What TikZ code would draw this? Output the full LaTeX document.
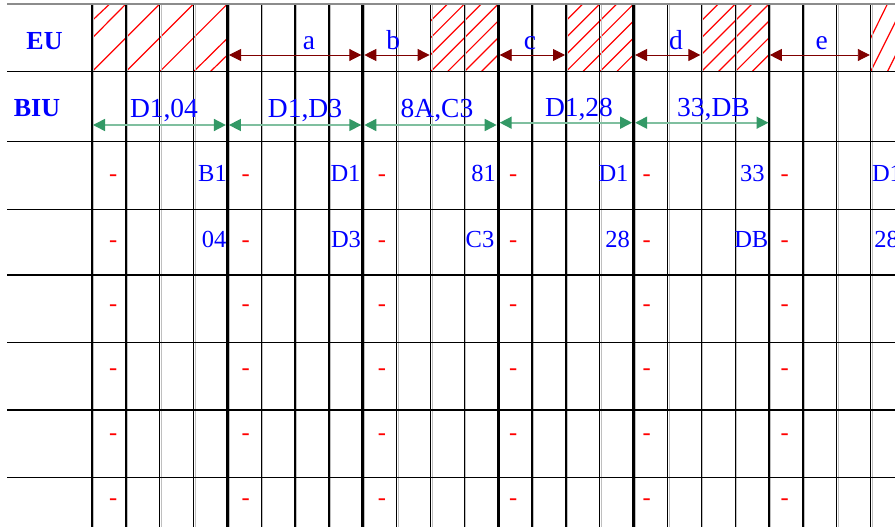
\documentclass[tikz,border=0pt]{standalone}
\usepackage{fontspec}
\setmainfont{Liberation Serif}
\usetikzlibrary{arrows.meta}
\definecolor{maroonc}{HTML}{800000}
\definecolor{greenhead}{HTML}{339966}
\definecolor{greenline}{HTML}{7FBF9F}
\definecolor{bluetxt}{HTML}{0000FF}
\definecolor{redc}{HTML}{FF0000}
\begin{document}
\begin{tikzpicture}[x=1pt,y=-1pt,
  gridline/.style={black,line width=1.3pt},
  shadowline/.style={black!25,line width=1pt},
  thickline/.style={black,line width=3pt},
  topline/.style={black!45,line width=1.3pt},
  hatch/.style={redc,line width=1.2pt},
  euarrow/.style={maroonc,line width=0.9pt,{Triangle[length=12pt,width=12pt]}-{Triangle[length=12pt,width=12pt]}},
  biuarrow/.style={greenline,line width=1.6pt,{Triangle[length=12pt,width=12pt,color=greenhead]}-{Triangle[length=12pt,width=12pt,color=greenhead]}},
  lbl/.style={text=bluetxt,font=\fontsize{27.5}{30}\selectfont,inner sep=0pt,anchor=base},
  val/.style={text=bluetxt,font=\fontsize{24.5}{28}\selectfont,inner sep=0pt,anchor=base},
  dsh/.style={text=redc,font=\fontsize{24.5}{28}\selectfont,inner sep=0pt,anchor=base},
  rowlbl/.style={text=bluetxt,font=\bfseries\fontsize{26}{30}\selectfont,inner sep=0pt,anchor=base}]
\useasboundingbox (0,0) rectangle (895,527);
\clip (0,0) rectangle (895,527);
\fill[white] (0,0) rectangle (895,527);
% hatching
\draw[hatch] (92,20.7)--(109.7,4) (92,38.3)--(125.85,4) (92,71.7)--(159.7,4)
  (125.85,71.7)--(193.55,4) (159.7,71.7)--(227.4,4) (193.55,71.7)--(227.4,38.3)
  (210.3,71.7)--(227.4,55);
\foreach \L in {430.5,565.9,701.3}{
  \foreach \i in {1,2,3}{
    \draw[hatch] (\L,{4+16.925*\i}) -- ({\L+16.925*\i},4);
    \draw[hatch] ({\L+16.925*\i},71.7) -- ({\L+67.7},{4+16.925*\i});
  }
  \draw[hatch] (\L,71.7) -- ({\L+67.7},4);
}
\draw[hatch] (870.55,38.3)--(887.4,4) (870.55,71.7)--(904.4,4) (887.4,71.7)--(921.3,4);
% grid
\foreach \k in {0,...,23}{
  \draw[shadowline] ({93.6+33.85*\k},4) -- ({93.6+33.85*\k},527);
  \draw[gridline] ({92+33.85*\k},4) -- ({92+33.85*\k},527);
}
\foreach \k in {4,8,12,16}{
  \draw[thickline] ({92+33.85*\k},4) -- ({92+33.85*\k},527);
}
\draw[topline] (7,4) -- (895,4);
\foreach \y in {71.7,141.7,209.3,275,342.3,410,477.7}{
  \draw[gridline] (7,\y) -- (895,\y);
}
% row labels
\node[rowlbl] (eu) at (44.5,50) {EU};
\node[rowlbl] (biu) at (37,117) {BIU};
% EU arrows
\coordinate (a1) at (229,55); \coordinate (a2) at (361.3,55);
\coordinate (b1) at (364.3,55); \coordinate (b2) at (429.6,55);
\coordinate (c1) at (499.7,55); \coordinate (c2) at (565,55);
\coordinate (d1) at (635.1,55); \coordinate (d2) at (700.4,55);
\coordinate (e1) at (769.8,55); \coordinate (e2) at (869.8,55);
\draw[euarrow] (a1) -- (a2);
\draw[euarrow] (b1) -- (b2);
\draw[euarrow] (c1) -- (c2);
\draw[euarrow] (d1) -- (d2);
\draw[euarrow] (e1) -- (e2);
\node[lbl] (la) at (309,50) {a};
\node[lbl] (lb) at (393.3,50) {b};
\node[lbl] (lc) at (530,50) {c};
\node[lbl] (ld) at (676,50) {d};
\node[lbl] (le) at (821.7,50) {e};
% BIU arrows
\coordinate (g1s) at (93,125); \coordinate (g1e) at (225.9,125);
\coordinate (g2s) at (228.9,125); \coordinate (g2e) at (361.3,125);
\coordinate (g3s) at (364.3,125); \coordinate (g3e) at (496.7,125);
\coordinate (g4s) at (499.7,122.7); \coordinate (g4e) at (632.1,122.7);
\coordinate (g5s) at (635.1,122.7); \coordinate (g5e) at (768.5,122.7);
\draw[biuarrow] (g1s) -- (g1e);
\draw[biuarrow] (g2s) -- (g2e);
\draw[biuarrow] (g3s) -- (g3e);
\draw[biuarrow] (g4s) -- (g4e);
\draw[biuarrow] (g5s) -- (g5e);
\node[lbl] (t1) at (164,117.3) {D1,04};
\node[lbl] (t2) at (305,117.3) {D1,D3};
\node[lbl] (t3) at (437,117.3) {8A,C3};
\node[lbl] (t4) at (579,117) {D1,28};
\node[lbl] (t5) at (713.5,117) {33,DB};
% values
\node[val] (v11) at (212.5,181.7) {B1};
\node[val] (v12) at (345.5,181.7) {D1};
\node[val] (v13) at (483.5,181.7) {81};
\node[val] (v14) at (613.5,181.7) {D1};
\node[val] (v15) at (752.3,181.7) {33};
\node[val] (v16) at (887,181.7) {D1};
\node[val] (v21) at (214.2,247.3) {04};
\node[val] (v22) at (346,247.3) {D3};
\node[val] (v23) at (480,247.3) {C3};
\node[val] (v24) at (617.5,247.3) {28};
\node[val] (v25) at (751.3,247.3) {DB};
\node[val] (v26) at (886.5,247.3) {28};
% dashes
\foreach \x [count=\i] in {113.3,245.7,382,513.3,646.7,784.7}{
  \foreach \y [count=\j] in {175,240.5,305.3,369.3,434.3,499.3}{
    \node[dsh] (m\i\j) at (\x,{\y+6.5}) {-};
  }
}
\end{tikzpicture}
\end{document}
